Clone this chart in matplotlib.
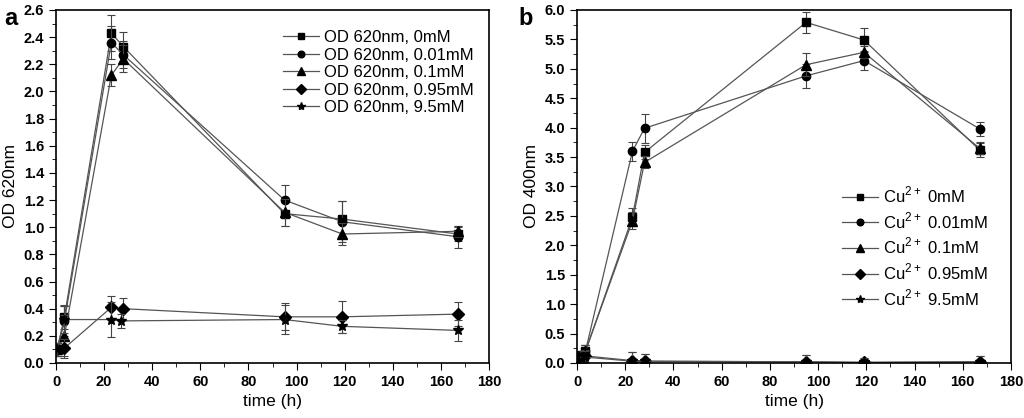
import matplotlib.pyplot as plt
from matplotlib.ticker import MultipleLocator

plt.rcParams['font.family'] = ['Liberation Sans', 'DejaVu Sans']
plt.rcParams['mathtext.fontset'] = 'custom'
plt.rcParams['mathtext.rm'] = 'Liberation Sans'

t = [0.5, 3.5, 23, 28, 95, 119, 167]
t_star = [0.5, 3.5, 23, 27, 95, 119, 167]

# panel a: OD 620nm
a_labels = ["OD 620nm, 0mM", "OD 620nm, 0.01mM", "OD 620nm, 0.1mM",
            "OD 620nm, 0.95mM", "OD 620nm, 9.5mM"]
a_0 = [0.10, 0.34, 2.43, 2.33, 1.10, 1.06, 0.95]
a_0_err = [0.05, 0.09, 0.13, 0.11, 0.09, 0.13, 0.05]
a_001 = [0.10, 0.31, 2.36, 2.27, 1.20, 1.04, 0.93]
a_001_err = [0.05, 0.11, 0.12, 0.10, 0.11, 0.15, 0.08]
a_01 = [0.10, 0.20, 2.12, 2.24, 1.11, 0.95, 0.97]
a_01_err = [0.05, 0.15, 0.08, 0.10, 0.10, 0.08, 0.04]
a_095 = [0.10, 0.11, 0.41, 0.40, 0.34, 0.34, 0.36]
a_095_err = [0.05, 0.07, 0.08, 0.08, 0.10, 0.12, 0.09]
a_95 = [0.10, 0.32, 0.32, 0.31, 0.32, 0.27, 0.24]
a_95_err = [0.05, 0.10, 0.13, 0.05, 0.11, 0.05, 0.08]

# panel b: OD 400nm
b_labels = ["Cu$^{2+}$ 0mM", "Cu$^{2+}$ 0.01mM", "Cu$^{2+}$ 0.1mM",
            "Cu$^{2+}$ 0.95mM", "Cu$^{2+}$ 9.5mM"]
b_0 = [0.10, 0.20, 2.48, 3.58, 5.79, 5.49, 3.62]
b_0_err = [0.10, 0.10, 0.15, 0.12, 0.18, 0.20, 0.12]
b_001 = [0.10, 0.20, 3.60, 3.99, 4.88, 5.14, 3.98]
b_001_err = [0.10, 0.10, 0.16, 0.25, 0.20, 0.16, 0.12]
b_01 = [0.10, 0.20, 2.42, 3.41, 5.07, 5.28, 3.65]
b_01_err = [0.10, 0.10, 0.15, 0.10, 0.20, 0.10, 0.10]
b_095 = [0.10, 0.12, 0.04, 0.03, 0.02, 0.01, 0.02]
b_095_err = [0.10, 0.10, 0.14, 0.12, 0.12, 0.08, 0.10]
b_95 = [0.05, 0.10, 0.03, 0.03, 0.02, 0.01, 0.02]
b_95_err = [0.05, 0.10, 0.15, 0.13, 0.12, 0.08, 0.10]

markers = ['s', 'o', '^', 'D', '*']
msizes = [5.5, 6, 6.5, 6, 7.5]

fig = plt.figure(figsize=(10.24, 4.18), dpi=100)
ax1 = fig.add_axes([0.0547, 0.1316, 0.4229, 0.8445])
ax2 = fig.add_axes([0.5635, 0.1316, 0.4238, 0.8445])


def draw(ax, series, errs, labels, xs_list):
    for y, e, lab, m, ms, xs in zip(series, errs, labels, markers, msizes, xs_list):
        ax.errorbar(xs, y, yerr=e, fmt='none', ecolor='#444444',
                    elinewidth=0.8, capsize=3, capthick=0.8)
        ax.plot(xs, y, color='#555555', lw=0.9, marker=m, ms=ms,
                mfc='black', mec='black', label=lab)


draw(ax1, [a_0, a_001, a_01, a_095, a_95],
     [a_0_err, a_001_err, a_01_err, a_095_err, a_95_err], a_labels,
     [t, t, t, t, t_star])
draw(ax2, [b_0, b_001, b_01, b_095, b_95],
     [b_0_err, b_001_err, b_01_err, b_095_err, b_95_err], b_labels,
     [t, t, t, t, t])

for ax in (ax1, ax2):
    ax.set_xlim(0, 180)
    ax.xaxis.set_major_locator(MultipleLocator(20))
    ax.xaxis.set_minor_locator(MultipleLocator(10))
    ax.tick_params(which='both', direction='out', top=False, right=False,
                   labelsize=10.5)
    ax.tick_params(which='major', length=5)
    ax.tick_params(which='minor', length=3)
    for sp in ax.spines.values():
        sp.set_linewidth(1.2)
    ax.set_xlabel("time (h)", fontsize=12.5)

ax1.set_ylim(0, 2.6)
ax1.yaxis.set_major_locator(MultipleLocator(0.2))
ax1.yaxis.set_minor_locator(MultipleLocator(0.1))
ax1.yaxis.set_major_formatter(plt.FormatStrFormatter('%.1f'))
ax1.set_ylabel("OD 620nm", fontsize=12.5)

ax2.set_ylim(0, 6.0)
ax2.yaxis.set_major_locator(MultipleLocator(0.5))
ax2.yaxis.set_minor_locator(MultipleLocator(0.25))
ax2.yaxis.set_major_formatter(plt.FormatStrFormatter('%.1f'))
ax2.set_ylabel("OD 400nm", fontsize=12.5)

for ax in (ax1, ax2):
    for lab in ax.get_xticklabels() + ax.get_yticklabels():
        lab.set_fontweight('bold')

ax1.legend(loc='upper right', frameon=False, fontsize=12, handlelength=2.2,
           handletextpad=0.3, labelspacing=0.15, markerscale=0.8,
           bbox_to_anchor=(1.0, 0.985))
ax2.legend(loc='center left', frameon=False, fontsize=12, handlelength=2.2,
           handletextpad=0.3, labelspacing=0.3, markerscale=0.8,
           bbox_to_anchor=(0.575, 0.33))

fig.text(0.004, 0.94, "a", fontsize=17, fontweight='bold')
fig.text(0.506, 0.94, "b", fontsize=17, fontweight='bold')

fig.savefig("out.png", dpi=100)
